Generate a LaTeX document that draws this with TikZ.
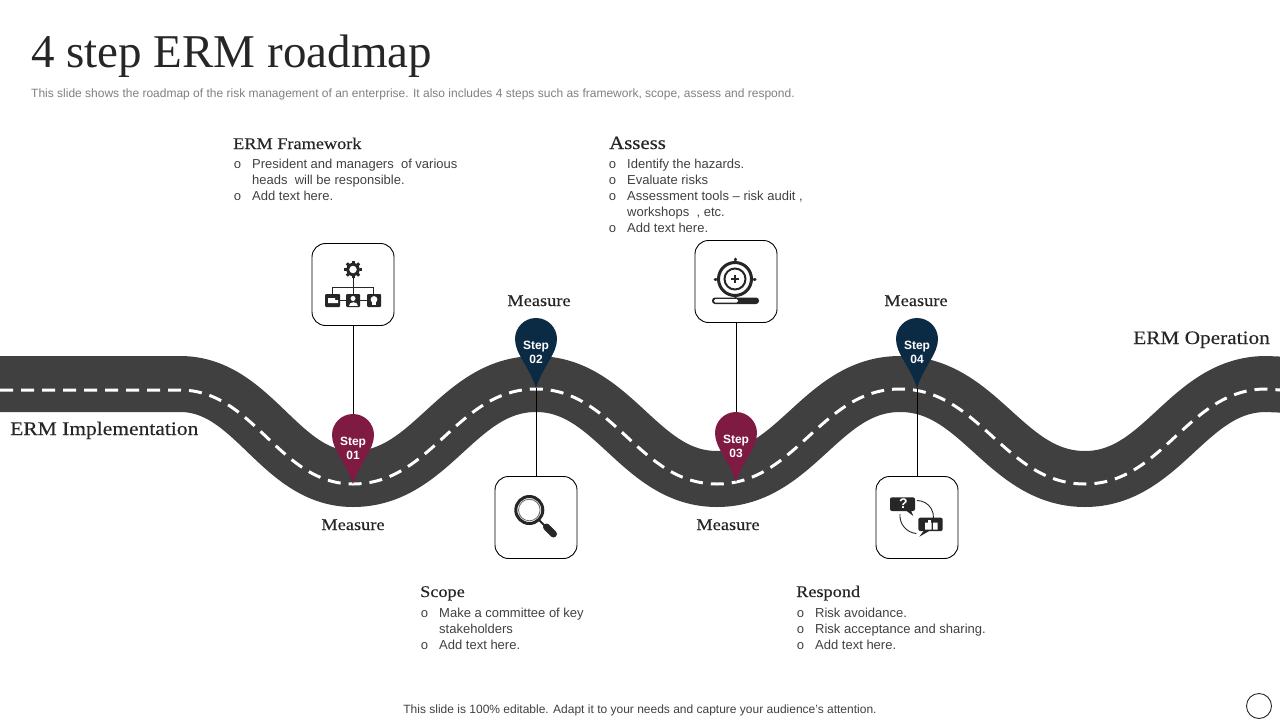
\documentclass[tikz,border=0pt]{standalone}
\usepackage{fontspec}
\setmainfont{Liberation Sans}
\newfontfamily\headfont[FakeStretch=1.12,FakeBold=0.35]{Liberation Serif}
\newfontfamily\titlefont{Liberation Serif}
\newfontfamily\bulletfont{Liberation Mono}
\definecolor{road}{HTML}{404040}
\definecolor{crimson}{HTML}{7F1A42}
\definecolor{navy}{HTML}{0B2A44}
\definecolor{ink}{HTML}{262626}
\definecolor{bodytext}{HTML}{404040}
\definecolor{greytext}{HTML}{7F7F7F}
\usetikzlibrary{positioning}
\tikzset{
  iconbox/.style={draw=black,line width=0.9pt,fill=white,rounded corners=13.5pt,minimum width=82pt,minimum height=82pt,inner sep=0pt},
  heading/.style={font=\headfont\fontsize{16.3}{18}\selectfont,text=ink,anchor=base west,inner sep=0pt},
  measure/.style={font=\headfont\fontsize{16.4}{18}\selectfont,text=ink,anchor=base,inner sep=0pt},
  bigheading/.style={font=\headfont\fontsize{19}{22}\selectfont,text=ink,inner sep=0pt},
  listtext/.style={font=\fontsize{13}{16}\selectfont,text=bodytext,anchor=base west,inner sep=0pt},
  pinlabel/.style={font=\bfseries\fontsize{12}{14}\selectfont,text=white,align=center,inner sep=0pt},
  stem/.style={draw=black,line width=0.9pt},
  iconline/.style={draw=ink,line width=0.9pt},
}
\newcommand{\mappin}[5]{% name, x, tip y, colour, text
  \fill[#4] (#2,#3) .. controls (#2-7,#3-22) and (#2-21,#3-34) .. (#2-21,#3-49)
     arc[start angle=180,end angle=0,radius=21pt]
     .. controls (#2+21,#3-34) and (#2+7,#3-22) .. (#2,#3) -- cycle;
  \coordinate (#1tip) at (#2,#3);
  \coordinate (#1top) at (#2,#3-70);
  \node[pinlabel] (#1) at (#2,#3-36) {#5};
}
\newcommand{\bullets}[1]{\begin{tabular}[t]{@{}p{18.5pt}@{}l@{}}#1\end{tabular}}
\newcommand{\blt}{{\bulletfont\fontsize{13}{16}\selectfont o}}
\begin{document}
\begin{tikzpicture}[x=1pt,y=-1pt]
\useasboundingbox (0,0) rectangle (1280,720);
% road
\def\roadcentre{(-10,384) -- (180,384) .. controls (254,384) and (279,479) .. (353,479) .. controls (432,479) and (457,384) .. (536,384) .. controls (614,384) and (639,479) .. (717,479) .. controls (796,479) and (821,384) .. (900,384) .. controls (980,384) and (1005,479) .. (1085,479) .. controls (1163,479) and (1188,384) .. (1266,384) -- (1290,385)}
\def\roaddash{(0,390) -- (180,390) .. controls (254,390) and (279,484) .. (353,484) .. controls (432,484) and (457,389) .. (536,389) .. controls (614,389) and (639,484) .. (717,484) .. controls (796,484) and (821,389) .. (900,389) .. controls (980,389) and (1005,484) .. (1085,484) .. controls (1163,484) and (1188,389) .. (1266,389) -- (1280,390)}
\begin{scope}
\clip (0,0) rectangle (1280,720);
\draw[road,line width=56pt] \roadcentre;
\draw[white,line width=3pt,dash pattern=on 13pt off 8pt] \roaddash;
\end{scope}
% icon boxes
\node[iconbox] (box1) at (353,284.5) {};
\node[iconbox] (box2) at (536,517.5) {};
\node[iconbox] (box3) at (736,281.5) {};
\node[iconbox] (box4) at (917,517.5) {};
% pins
\mappin{pin1}{353}{484}{crimson}{Step\\01}
\mappin{pin2}{536}{388}{navy}{Step\\02}
\mappin{pin3}{736}{482}{crimson}{Step\\03}
\mappin{pin4}{917}{388}{navy}{Step\\04}
% connectors
\draw[stem] (box1.south) -- (pin1top);
\draw[stem] (pin2tip) -- (box2.north);
\draw[stem] (box3.south) -- (pin3top);
\draw[stem] (pin4tip) -- (box4.north);
% icon 1: gear and org chart
\draw[ink,line width=3pt] (353,269.5) circle[radius=5.5pt];
\foreach \a in {0,45,...,315}{\draw[ink,line width=3pt] (353,269.5) ++(\a:6.5pt) -- ++(\a:2.2pt);}
\draw[iconline] (353,278) -- (353,294) (332,294) -- (332,287) -- (373,287) -- (373,294) (340,300.5) -- (346,300.5) (360,300.5) -- (367,300.5);
\fill[ink,rounded corners=1pt] (325,294) rectangle (340,307);
\fill[ink,rounded corners=1pt] (346,294) rectangle (360,307);
\fill[ink,rounded corners=1pt] (367,294) rectangle (381,307);
\fill[white] (328,298) rectangle (335,303) (335,300) rectangle (338,303);
\fill[white] (353,298.5) circle[radius=2.5pt];
\fill[white] (348.5,305.5) .. controls (348.5,301) and (357.5,301) .. (357.5,305.5) -- cycle;
\fill[white] (374,299.5) circle[radius=3.4pt];
\fill[white] (372.3,302) rectangle (375.7,305);
% icon 2: target
\draw[ink,line width=3pt] (735,279) circle[radius=16.5pt];
\draw[ink,line width=2pt] (735,279) circle[radius=10.5pt];
\draw[ink,line width=1.2pt] (735,275) -- (735,283) (731,279) -- (739,279);
\draw[ink,line width=3pt,line cap=round] (735,260) -- (735,259) (735,298) -- (735,299) (716,279) -- (715,279) (754,279) -- (755,279);
\fill[ink,rounded corners=3pt] (712,297.5) rectangle (759,304);
\fill[white,rounded corners=1.5pt] (714,299) rectangle (738,302.6);
% icon 3: magnifier
\draw[ink,line width=3pt] (529.3,510) circle[radius=13.5pt];
\draw[ink!70,line width=0.8pt] (529.3,510) circle[radius=10.8pt];
\draw[ink,line width=2pt] (539,520) -- (545,526);
\draw[ink,line width=7pt,line cap=round] (546.5,527) -- (553.5,534);
% icon 4: feedback
\draw[iconline] (917,500.5) arc[start angle=90,end angle=-5,radius=16.5pt];
\draw[iconline] (900,514) arc[start angle=175,end angle=265,radius=18pt];
\fill[ink,rounded corners=2pt] (890,497.3) rectangle (915,511);
\fill[ink] (906,510.5) -- (913.3,516) -- (911,510.5) -- cycle;
\fill[ink,rounded corners=2pt] (918.3,517.7) rectangle (942.7,531);
\fill[ink] (924,530.5) -- (919.3,536.7) -- (930,530.5) -- cycle;
\node[font=\bfseries\fontsize{14}{14}\selectfont,text=white,inner sep=0pt] (qmark) at (903.3,504) {?};
\fill[white] (925,522.5) rectangle (931.5,529.5) (933,522.5) rectangle (937.5,529.5);
\fill[white] (928,519.5) rectangle (930.5,523);
% title
\node[font=\titlefont\fontsize{47}{52}\selectfont,text=ink,anchor=base west,inner sep=0pt] (title) at (31,67) {4 step ERM roadmap};
\node[font=\fontsize{12}{14}\selectfont,text=greytext,anchor=base west,inner sep=0pt] (subtitle) at (31,97) {This slide shows the roadmap of the risk management of an enterprise. It also includes 4 steps such as framework, scope, assess and respond.};
% text blocks
\node[heading] (h1) at (233,149) {ERM Framework};
\node[listtext] (l1) at (233.5,168) {\bullets{\blt & President and managers \ of various\\ & heads \ will be responsible.\\ \blt & Add text here.}};
\node[heading,font=\headfont\fontsize{18.6}{22}\selectfont] (h3) at (609,149) {Assess};
\node[listtext] (l3) at (608.5,168) {\bullets{\blt & Identify the hazards.\\ \blt & Evaluate risks\\ \blt & Assessment tools -- risk audit ,\\ & workshops \ , etc.\\ \blt & Add text here.}};
\node[heading] (h2) at (420,597) {Scope};
\node[listtext] (l2) at (420.5,617) {\bullets{\blt & Make a committee of key\\ & stakeholders\\ \blt & Add text here.}};
\node[heading] (h4) at (796,597) {Respond};
\node[listtext] (l4) at (796.5,617) {\bullets{\blt & Risk avoidance.\\ \blt & Risk acceptance and sharing.\\ \blt & Add text here.}};
% measures
\node[measure] (m1) at (353,530) {Measure};
\node[measure] (m2) at (539,306) {Measure};
\node[measure] (m3) at (728,530) {Measure};
\node[measure] (m4) at (916,306) {Measure};
% road labels
\node[bigheading,font=\headfont\fontsize{19.2}{22}\selectfont,anchor=base west] (impl) at (10,435) {ERM Implementation};
\node[bigheading,anchor=base east] (oper) at (1270,344) {ERM Operation};
% footer
\node[font=\fontsize{12}{14}\selectfont,text=bodytext,anchor=base,inner sep=0pt] (footer) at (640,713) {This slide is 100\% editable. Adapt it to your needs and capture your audience's attention.};
\node[draw=ink,line width=0.9pt,circle,minimum size=25pt,inner sep=0pt] (round) at (1259,706) {};
\end{tikzpicture}
\end{document}
